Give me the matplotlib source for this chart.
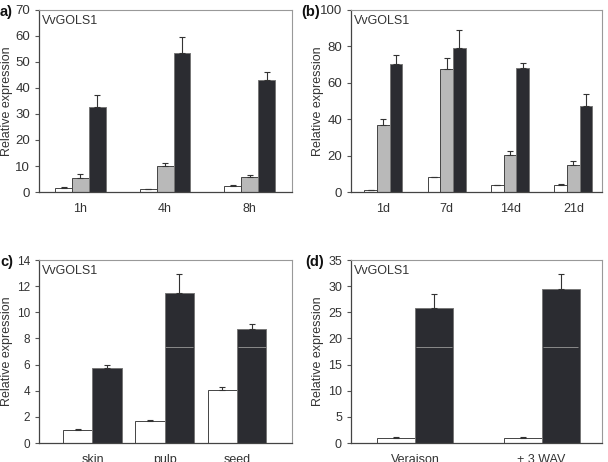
import matplotlib
matplotlib.use("Agg")
import matplotlib.pyplot as plt
import numpy as np

plt.rcParams['font.family'] = ['Liberation Sans', 'DejaVu Sans']

# ---- data ----
a_cats = ['1h', '4h', '8h']
a_white = [1.6, 1.1, 2.2]
a_white_err = [0.25, 0.1, 0.6]
a_gray = [5.4, 10.1, 5.8]
a_gray_err = [1.6, 0.9, 0.6]
a_black = [32.6, 53.6, 43.0]
a_black_err = [4.8, 5.9, 3.2]

b_cats = ['1d', '7d', '14d', '21d']
b_white = [0.9, 8.0, 3.6, 3.8]
b_white_err = [0.2, 0.3, 0.2, 0.5]
b_gray = [36.8, 67.8, 20.6, 14.6]
b_gray_err = [3.1, 5.6, 2.0, 2.2]
b_black = [70.5, 79.2, 68.3, 47.4]
b_black_err = [4.9, 9.8, 2.6, 6.7]

c_cats = ['skin', 'pulp', 'seed']
c_white = [1.0, 1.69, 4.06]
c_white_err = [0.07, 0.05, 0.23]
c_black = [5.75, 11.45, 8.71]
c_black_err = [0.2, 1.5, 0.39]

d_cats = ['Veraison', '+ 3 WAV']
d_white = [1.02, 1.0]
d_white_err = [0.18, 0.08]
d_black = [25.8, 29.4]
d_black_err = [2.7, 2.9]

WHITE = '#ffffff'
GRAY = '#b9b9b9'
BLACK = '#2b2c31'
TXT = '#333333'

fig = plt.figure(figsize=(6.08, 4.62), dpi=100)


def style(ax, ymax, ystep, cats, xlim, labelx, ticksize):
    ax.set_ylim(0, ymax)
    ax.set_yticks(np.arange(0, ymax + ystep / 2, ystep))
    ax.set_xlim(*xlim)
    ax.set_xticks(range(len(cats)))
    ax.set_xticklabels(cats)
    ax.tick_params(axis='x', length=0, pad=8, labelsize=9, colors=TXT)
    ax.tick_params(axis='y', length=3, width=0.8, pad=3.5, labelsize=ticksize,
                   colors='#555555', labelcolor=TXT)
    for s in ['left', 'bottom']:
        ax.spines[s].set_color('#444444')
        ax.spines[s].set_linewidth(0.9)
    for s in ['top', 'right']:
        ax.spines[s].set_color('#999999')
        ax.spines[s].set_linewidth(0.8)
    ax.set_ylabel('Relative expression', fontsize=9, color=TXT)
    ax.yaxis.set_label_coords(labelx, 0.5)
    ax.text(0.012, 0.975, 'VvGOLS1', transform=ax.transAxes, ha='left',
            va='top', fontsize=9, color=TXT)


def bars(ax, series, width):
    n = len(series)
    for i, (vals, errs, col) in enumerate(series):
        x = np.arange(len(vals)) + (i - (n - 1) / 2) * width
        ax.bar(x, vals, width, color=col, edgecolor='#444444' if col != BLACK else '#777777',
               linewidth=0.7, zorder=2)
        ax.errorbar(x, vals, yerr=[np.zeros(len(errs)), errs], fmt='none',
                    ecolor='#333333', elinewidth=0.8, capsize=2.5, capthick=0.8, zorder=3)


def artifact_line(ax, vals, level, width, offset):
    for i, v in enumerate(vals):
        if v > level:
            ax.hlines(level, i + offset - width / 2 + 0.01, i + offset + width / 2 - 0.01,
                      color='#8a8a8a', linewidth=0.7, zorder=4)


# panel a
axa = fig.add_axes([0.0641, 0.5844, 0.4161, 0.394])
bars(axa, [(a_white, a_white_err, WHITE), (a_gray, a_gray_err, GRAY),
           (a_black, a_black_err, BLACK)], 0.2)
style(axa, 70, 10, a_cats, (-0.49, 2.5), -0.103, 9.5)

# panel b
axb = fig.add_axes([0.5773, 0.5844, 0.4128, 0.394])
bars(axb, [(b_white, b_white_err, WHITE), (b_gray, b_gray_err, GRAY),
           (b_black, b_black_err, BLACK)], 0.2)
style(axb, 100, 20, b_cats, (-0.51, 3.45), -0.108, 9.5)

# panel c
axc = fig.add_axes([0.0641, 0.0411, 0.4161, 0.3961])
bars(axc, [(c_white, c_white_err, WHITE), (c_black, c_black_err, BLACK)], 0.405)
style(axc, 14, 2, c_cats, (-0.74, 2.76), -0.103, 8.5)
artifact_line(axc, c_black, 7.35, 0.405, 0.2025)

# panel d
axd = fig.add_axes([0.5773, 0.0411, 0.4128, 0.3961])
bars(axd, [(d_white, d_white_err, WHITE), (d_black, d_black_err, BLACK)], 0.3)
style(axd, 35, 5, d_cats, (-0.505, 1.476), -0.108, 9)
artifact_line(axd, d_black, 18.3, 0.3, 0.15)

# panel letters
fig.text(0.0, 1 - 12 / 462, 'a)', fontsize=10.5, fontweight='bold', color='#111111', va='center', ha='left')
fig.text(301 / 608, 1 - 12 / 462, '(b)', fontsize=10.5, fontweight='bold', color='#111111', va='center', ha='left')
fig.text(0.0, 1 - 262 / 462, 'c)', fontsize=10.5, fontweight='bold', color='#111111', va='center', ha='left')
fig.text(305 / 608, 1 - 262 / 462, '(d)', fontsize=10.5, fontweight='bold', color='#111111', va='center', ha='left')

fig.savefig('out.png', dpi=100)
